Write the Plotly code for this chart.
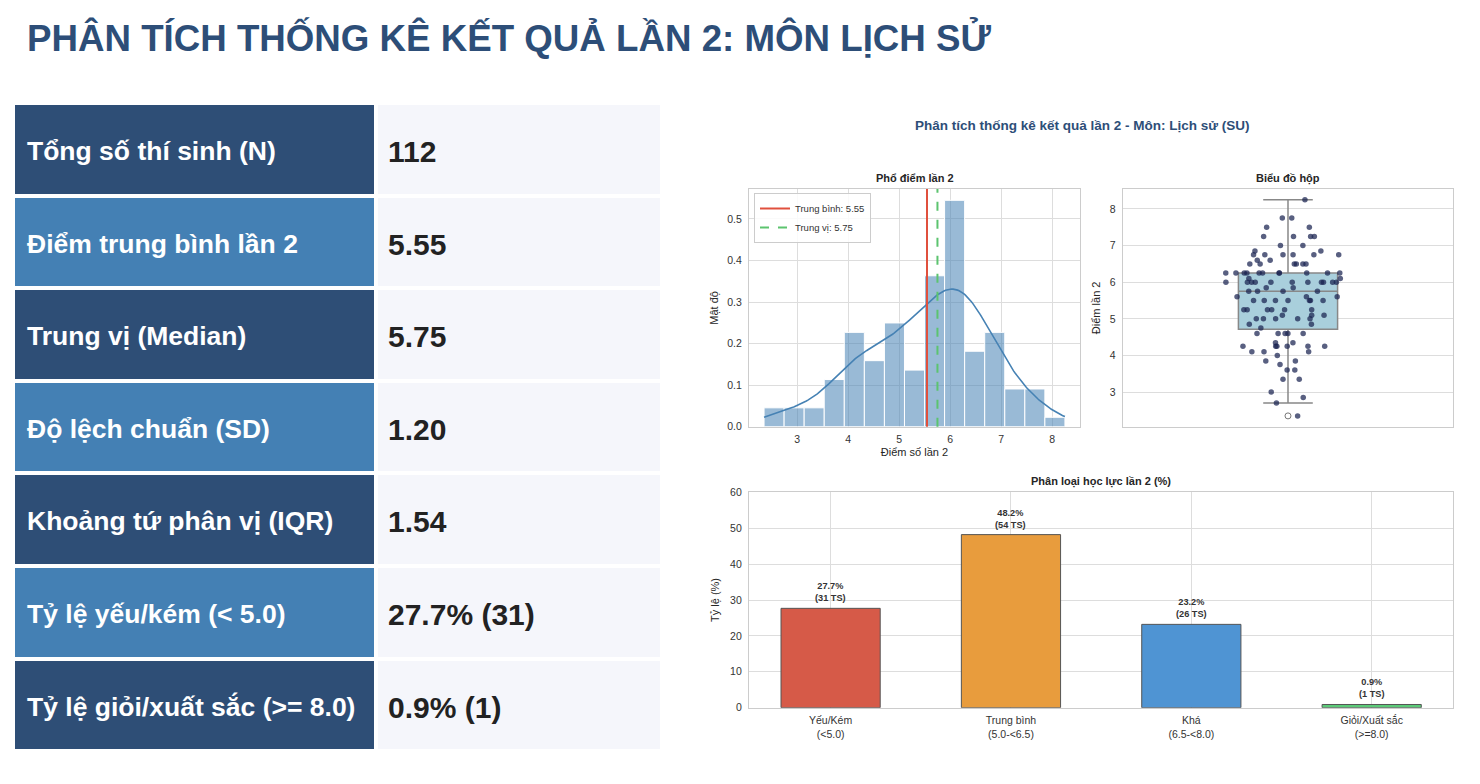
import numpy as np
import plotly.graph_objects as go

W, H = 1480, 784
OX, OY = 8, 8  # page margin of the html body


def px(x):
    return (x - OX) / W


def py(y):
    return 1 - (y - OY) / H


# điểm lần 2 (đọc từ biểu đồ hộp), mỗi mức điểm kèm số thí sinh
score_levels = [2.35, 2.7, 2.85, 3.0, 3.35, 3.6, 3.75, 3.85, 4.0, 4.1, 4.25, 4.35, 4.6, 4.75, 4.85,
                5.0, 5.1, 5.25, 5.5, 5.6, 5.75, 5.85, 6.0, 6.1, 6.25, 6.5, 6.6, 6.75, 6.85, 7.0,
                7.25, 7.5, 7.75, 8.25]
score_counts = [1, 1, 1, 1, 2, 2, 1, 2, 1, 3, 6, 2, 5, 1, 2,
                5, 3, 6, 7, 3, 4, 2, 11, 2, 11, 6, 2, 6, 2, 2,
                4, 2, 2, 1]

stat_labels = ["Tổng số thí sinh (N)", "Điểm trung bình lần 2", "Trung vị (Median)",
               "Độ lệch chuẩn (SD)", "Khoảng tứ phân vị (IQR)", "Tỷ lệ yếu/kém (&lt; 5.0)",
               "Tỷ lệ giỏi/xuất sắc (&gt;= 8.0)"]
stat_values = ["112", "5.55", "5.75", "1.20", "1.54", "27.7% (31)", "0.9% (1)"]

grade_names = ["Yếu/Kém", "Trung bình", "Khá", "Giỏi/Xuất sắc"]
grade_ranges = ["(&lt;5.0)", "(5.0-&lt;6.5)", "(6.5-&lt;8.0)", "(&gt;=8.0)"]
grade_edges = [0.0, 5.0, 6.5, 8.0, 10.01]
grade_colors = ["#d65a48", "#e89c3d", "#4f94d3", "#5ccb79"]

scores = np.repeat(score_levels, score_counts)
n = len(scores)
mean = scores.mean()
median = np.median(scores)

# histogram 15 bins + kde (scott)
dens, edges = np.histogram(scores, bins=15, density=True)
centers = (edges[:-1] + edges[1:]) / 2
bw = edges[1] - edges[0]
sigma = scores.std(ddof=1) * n ** (-1 / 5)
grid = np.linspace(scores.min(), scores.max(), 200)
kde = np.exp(-0.5 * ((grid[:, None] - scores[None, :]) / sigma) ** 2).sum(axis=1) / (n * sigma * np.sqrt(2 * np.pi))

span = scores.max() - scores.min()
score_range = [scores.min() - 0.05 * span, scores.max() + 0.05 * span]

# box stats like matplotlib
q1, q3 = np.percentile(scores, [25, 75])
iqr = q3 - q1
inside = scores[(scores >= q1 - 1.5 * iqr) & (scores <= q3 + 1.5 * iqr)]
outliers = scores[(scores < q1 - 1.5 * iqr) | (scores > q3 + 1.5 * iqr)]

grade_counts = [int(((scores >= lo) & (scores < hi)).sum()) for lo, hi in zip(grade_edges[:-1], grade_edges[1:])]
grade_pct = [c / n * 100 for c in grade_counts]
grade_x = [f"{a}<br>{b}" for a, b in zip(grade_names, grade_ranges)]

dark, light, pale = "#2e4e76", "#4480b4", "#f5f6fb"
label_fills = [dark if i % 2 == 0 else light for i in range(len(stat_labels))]
font = "Liberation Sans, Arial, sans-serif"
title_blue = "#2d4e78"

ROW = 92.6
TOP = 103
nrows = len(stat_labels)
clear = "rgba(0,0,0,0)"

fig = go.Figure()


def table(x0, x1, dy, vals, fills, fcolor, fsize, line):
    top = TOP + dy
    return go.Table(
        domain=dict(x=[px(x0), px(x1)], y=[py(top + nrows * ROW + 4), py(top)]),
        header=dict(values=[vals[0]], fill_color=fills[0], align="left", height=ROW,
                    font=dict(family=font, color=fcolor, size=fsize), line=dict(color=line, width=4)),
        cells=dict(values=[vals[1:]], fill_color=[fills[1:]], align="left", height=ROW,
                   font=dict(family=font, color=fcolor, size=fsize), line=dict(color=line, width=4)),
    )


# fills
fig.add_trace(table(13, 377, 0, [""] * nrows, label_fills, "white", 10, "white"))
fig.add_trace(table(376, 663, 0, [""] * nrows, [pale] * nrows, "white", 10, "white"))
# texts
fig.add_trace(table(19, 377, 25, ["<b>" + s + "</b>" for s in stat_labels], [clear] * nrows,
                    "white", 26.5, clear))
fig.add_trace(table(380, 663, 24, ["<b>" + s + "</b>" for s in stat_values], [clear] * nrows,
                    "#222222", 30, clear))

# phổ điểm
fig.add_trace(go.Bar(x=centers, y=dens, width=bw, xaxis="x", yaxis="y", showlegend=False,
                     marker=dict(color="rgba(70,130,180,0.55)", line=dict(color="white", width=1))))
fig.add_trace(go.Scatter(x=grid, y=kde, mode="lines", xaxis="x", yaxis="y", showlegend=False,
                         line=dict(color="#4682b4", width=1.6)))
fig.add_shape(type="line", xref="x", yref="y domain", x0=mean, x1=mean, y0=0, y1=1,
              line=dict(color="#e0503d", width=2), name=f"Trung bình: {mean:.2f}", showlegend=True)
fig.add_shape(type="line", xref="x", yref="y domain", x0=median, x1=median, y0=0, y1=1,
              line=dict(color="#5cc46f", width=2, dash="dash"), name=f"Trung vị: {median:.2f}", showlegend=True)

# biểu đồ hộp + điểm rải
fig.add_trace(go.Box(x=[0], q1=[q1], median=[median], q3=[q3], lowerfence=[inside.min()],
                     upperfence=[inside.max()], width=0.3, xaxis="x2", yaxis="y2", showlegend=False,
                     whiskerwidth=0.5, fillcolor="#a9cfdc", line=dict(color="#888888", width=1.5)))
fig.add_trace(go.Scatter(x=[0] * len(outliers), y=outliers, mode="markers", xaxis="x2", yaxis="y2",
                         showlegend=False,
                         marker=dict(color="white", size=6, line=dict(color="#777777", width=1))))
fig.add_trace(go.Box(y=scores, x0=0, width=0.4, xaxis="x2", yaxis="y2", showlegend=False,
                     boxpoints="all", jitter=1, pointpos=0, fillcolor=clear,
                     line=dict(color=clear, width=0),
                     marker=dict(color="rgba(25,35,80,0.72)", size=5.5)))

# phân loại học lực
fig.add_trace(go.Bar(x=grade_x, y=grade_pct, xaxis="x3", yaxis="y3", showlegend=False, width=0.55,
                     marker=dict(color=grade_colors, line=dict(color="#555555", width=1))))

ax = dict(showline=True, mirror=True, linecolor="#cccccc", linewidth=1.2, gridcolor="#dddddd",
          gridwidth=1, zeroline=False, ticks="", tickfont=dict(size=10.5, color="#333333", family=font))
xax = dict(ax, ticklabelstandoff=3)
yax = dict(ax, ticklabelstandoff=4)
ttl = dict(size=11, color="#262626", family=font)


def note(text, x, y, size, color=title_blue):
    return dict(text=text, x=px(x), y=py(y), xref="paper", yref="paper", xanchor="center",
                yanchor="middle", showarrow=False, font=dict(size=size, color=color, family=font))


notes = [
    dict(text="<b>PHÂN TÍCH THỐNG KÊ KẾT QUẢ LẦN 2: MÔN LỊCH SỬ</b>", x=px(25), y=py(38),
         xref="paper", yref="paper", xanchor="left", yanchor="middle", showarrow=False,
         font=dict(size=36.7, color=title_blue, family=font)),
    note("<b>Phân tích thống kê kết quả lần 2 - Môn: Lịch sử (SU)</b>", 1082, 125, 13.5),
    note("<b>Phổ điểm lần 2</b>", 914.5, 178, 11, "#262626"),
    note("<b>Biểu đồ hộp</b>", 1288, 178, 11, "#262626"),
    note("<b>Phân loại học lực lần 2 (%)</b>", 1101, 481, 11, "#262626"),
]
for gx, p, c in zip(grade_x, grade_pct, grade_counts):
    notes.append(dict(text=f"<b>{p:.1f}%<br>({c} TS)</b>", x=gx, y=p, xref="x3", yref="y3",
                      xanchor="center", yanchor="bottom", yshift=3, showarrow=False,
                      font=dict(size=9.2, color="#333333", family=font)))

fig.update_layout(
    width=W, height=H, margin=dict(l=0, r=0, t=0, b=0, autoexpand=False),
    paper_bgcolor="white", plot_bgcolor="white", font=dict(family=font),
    xaxis=dict(xax, domain=[px(749), px(1080)], anchor="y", range=score_range, dtick=1, tick0=0,
               title=dict(text="Điểm số lần 2", font=ttl, standoff=3)),
    yaxis=dict(yax, domain=[py(426.7), py(189)], anchor="x", range=[0, dens.max() * 1.05],
               dtick=0.1, tickformat=".1f", title=dict(text="Mật độ", font=ttl, standoff=6)),
    xaxis2=dict(xax, domain=[px(1122.7), px(1453.3)], anchor="y2", range=[-0.5, 0.5],
                showticklabels=False, showgrid=False),
    yaxis2=dict(yax, domain=[py(426.7), py(189)], anchor="x2", range=score_range, dtick=1,
                title=dict(text="Điểm lần 2", font=ttl, standoff=6)),
    xaxis3=dict(xax, domain=[px(749), px(1453.3)], anchor="y3", range=[-0.4525, 3.4525]),
    yaxis3=dict(yax, domain=[py(707.7), py(492.3)], anchor="x3", range=[0, 60], dtick=10,
                title=dict(text="Tỷ lệ (%)", font=ttl, standoff=8)),
    legend=dict(x=px(754), y=py(193), xanchor="left", yanchor="top", bgcolor="rgba(255,255,255,0.85)",
                bordercolor="#cccccc", borderwidth=1, font=dict(size=9.5, color="#333333", family=font),
                tracegroupgap=0, itemwidth=30),
    annotations=notes,
)

fig.write_html("out.html")
